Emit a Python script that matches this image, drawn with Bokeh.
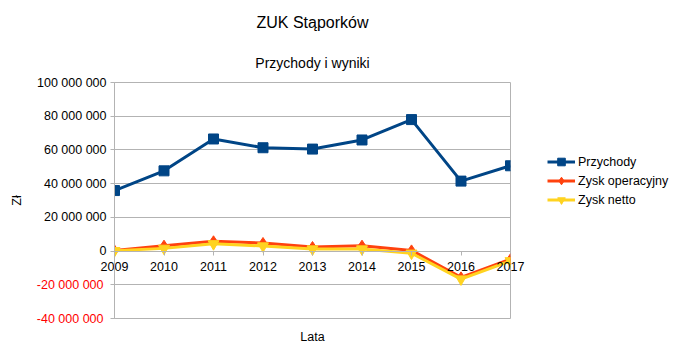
from bokeh.plotting import figure
from bokeh.models import (Range1d, FixedTicker, CustomJSTickFormatter, Legend, LegendItem,
                          LinearAxis, Title)
from bokeh.embed import file_html
from bokeh.resources import INLINE

# ---- data ----
years = [2009, 2010, 2011, 2012, 2013, 2014, 2015, 2016, 2017]
przychody = [35.9e6, 47.6e6, 66.5e6, 61.3e6, 60.5e6, 65.9e6, 78.0e6, 41.5e6, 50.6e6]
zysk_operacyjny = [0.4e6, 3.2e6, 5.8e6, 4.8e6, 2.4e6, 3.2e6, 0.4e6, -15.6e6, -4.8e6]
zysk_netto = [0.2e6, 1.6e6, 4.3e6, 3.0e6, 1.2e6, 1.2e6, -1.3e6, -16.6e6, -5.8e6]
y_ticks = [-40e6, -20e6, 0, 20e6, 40e6, 60e6, 80e6, 100e6]
title_text = "ZUK Stąporków"
subtitle_text = "Przychody i wyniki"
series_names = ["Przychody", "Zysk operacyjny", "Zysk netto"]
y_label = "Zł"
x_label = "Lata"

FONT = "Liberation Sans"
GRID = "#b3b3b3"
FS = "12.5px"

p = figure(frame_width=396, frame_height=236, output_backend="svg", toolbar_location=None,
           x_range=Range1d(years[0], years[-1]), y_range=Range1d(-40e6, 100e6),
           x_axis_location=None, y_axis_location=None,
           min_border_left=114, min_border_right=168, min_border_top=82, min_border_bottom=37)
p.outline_line_color = GRID
p.background_fill_color = "white"
p.border_fill_color = "white"

# grid
p.ygrid.ticker = FixedTicker(ticks=y_ticks)
p.ygrid.grid_line_color = GRID
p.xgrid.grid_line_color = None

fmt_pos = CustomJSTickFormatter(code="""
    if (tick < 0) { return ""; }
    return Math.round(tick).toFixed(0).replace(/\\B(?=(\\d{3})+(?!\\d))/g, " ");
""")
fmt_neg = CustomJSTickFormatter(code="""
    if (tick >= 0) { return ""; }
    return "-" + Math.round(-tick).toFixed(0).replace(/\\B(?=(\\d{3})+(?!\\d))/g, " ");
""")

# y axis (nearest): line, ticks, black labels for non-negative values
ya = LinearAxis(ticker=FixedTicker(ticks=y_ticks), formatter=fmt_pos)
ya.axis_line_color = GRID
ya.major_tick_line_color = GRID
ya.major_tick_in = 0
ya.major_tick_out = 4
ya.minor_tick_line_color = None
ya.major_label_standoff = 4
ya.major_label_text_font = FONT
ya.major_label_text_font_size = FS
ya.major_label_text_color = "black"
p.add_layout(ya, "left")

# y axis (outer): red labels for negative values, shifted onto the same column
yb = LinearAxis(ticker=FixedTicker(ticks=y_ticks), formatter=fmt_neg)
yb.axis_line_color = None
yb.major_tick_line_color = None
yb.major_tick_in = 0
yb.major_tick_out = 0
yb.minor_tick_line_color = None
yb.major_label_standoff = -70
yb.major_label_text_font = FONT
yb.major_label_text_font_size = FS
yb.major_label_text_color = "#ff0000"
yb.axis_label = y_label
yb.axis_label_standoff = 10
yb.axis_label_text_font = FONT
yb.axis_label_text_font_size = FS
yb.axis_label_text_font_style = "normal"
yb.axis_label_text_color = "black"
p.add_layout(yb, "left")

# x axis labels (drawn up to the zero line)
xa = LinearAxis(ticker=FixedTicker(ticks=years),
                formatter=CustomJSTickFormatter(code="return tick.toFixed(0);"))
xa.axis_line_color = None
xa.major_tick_line_color = None
xa.major_tick_in = 0
xa.major_tick_out = 0
xa.minor_tick_line_color = None
xa.major_label_standoff = -57
xa.major_label_text_font = FONT
xa.major_label_text_font_size = FS
xa.major_label_text_color = "black"
xa.axis_label = x_label
xa.axis_label_standoff = 56
xa.axis_label_text_font = FONT
xa.axis_label_text_font_size = FS
xa.axis_label_text_font_style = "normal"
xa.axis_label_text_color = "black"
p.add_layout(xa, "below")

# x axis ticks crossing at zero
xt = LinearAxis(ticker=FixedTicker(ticks=years),
                formatter=CustomJSTickFormatter(code="return '';"), fixed_location=0)
xt.axis_line_color = GRID
xt.major_tick_line_color = GRID
xt.major_tick_in = 0
xt.major_tick_out = 4
xt.minor_tick_line_color = None
xt.major_label_standoff = 0
p.add_layout(xt, "below")

# series
r1l = p.line(years, przychody, line_color="#004586", line_width=3)
r1m = p.scatter(years, przychody, marker="square", size=10, fill_color="#004586", line_color="#004586")
r2l = p.line(years, zysk_operacyjny, line_color="#ff420e", line_width=3)
r2m = p.scatter(years, zysk_operacyjny, marker="diamond", size=11, fill_color="#ff420e", line_color="#ff420e")
r3l = p.line(years, zysk_netto, line_color="#ffd320", line_width=3)
r3m = p.scatter(years, zysk_netto, marker="inverted_triangle", size=11, fill_color="#ffd320", line_color="#ffd320")

legend = Legend(items=[LegendItem(label=series_names[0], renderers=[r1l, r1m]),
                       LegendItem(label=series_names[1], renderers=[r2l, r2m]),
                       LegendItem(label=series_names[2], renderers=[r3l, r3m])],
                location="top_left", border_line_color=None, background_fill_alpha=0,
                padding=0, margin=37, spacing=0, glyph_width=28, glyph_height=19,
                label_height=19, label_standoff=3, label_text_font=FONT,
                label_text_font_size=FS, label_text_color="black",
                title=" ", title_text_font_size="12px", title_standoff=19)
p.add_layout(legend, "right")

# titles (the figure's own title is outermost; the added one sits next to the frame)
p.title.text = title_text
p.title.align = "center"
p.title.text_font = FONT
p.title.text_font_size = "16px"
p.title.text_font_style = "normal"
p.title.text_color = "black"
p.title.standoff = 22
p.title.offset = 3
p.add_layout(Title(text=subtitle_text, align="center", text_font=FONT, text_font_size="14px",
                   text_font_style="normal", text_color="black", standoff=23, offset=3), "above")

open("out.html", "w").write(file_html(p, INLINE))
